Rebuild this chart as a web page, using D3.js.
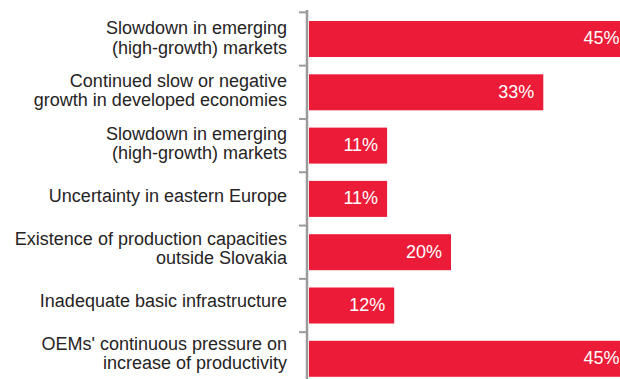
<!DOCTYPE html>
<html>
<head>
<meta charset="utf-8">
<script src="https://cdn.jsdelivr.net/npm/d3@7"></script>
<style>
  html, body { margin: 0; padding: 0; background: #fff; }
  svg { display: block; }
</style>
</head>
<body>
<svg id="chart" width="620" height="379"></svg>
<script>
// Risk factors and the share of respondents citing each one
const categories = [
  ["Slowdown in emerging", "(high-growth) markets"],
  ["Continued slow or negative", "growth in developed economies"],
  ["Slowdown in emerging", "(high-growth) markets"],
  ["Uncertainty in eastern Europe"],
  ["Existence of production capacities", "outside Slovakia"],
  ["Inadequate basic infrastructure"],
  ["OEMs' continuous pressure on", "increase of productivity"]
];
const values = [45, 33, 11, 11, 20, 12, 45];
const valueLabels = ["45%", "33%", "11%", "11%", "20%", "12%", "45%"];

const svg = d3.select("#chart");
const barColor = "#ec1c38";
const axisColor = "#9b9b9b";
const font = "Liberation Sans, Arial, Helvetica, sans-serif";

const axisX = 307;
const n = categories.length;
const x = d3.scaleLinear().domain([0, 45]).range([309, 628.5]);

// bar bands
const barStep = 53.3;
const y = d3.scaleBand()
  .domain(d3.range(n))
  .range([12.35, 12.35 + barStep * n])
  .paddingInner(0.3246)
  .paddingOuter(0.1623);

// label bands (text sits on a slightly tighter rhythm)
const yLab = d3.scaleBand()
  .domain(d3.range(n))
  .range([12.8, 12.8 + 52.6 * n]);

// vertical category axis with ticks at band boundaries
const boundaries = d3.range(n + 1).map(i => y(0) - (y.step() - y.bandwidth()) / 2 + i * y.step());
svg.append("line")
  .attr("x1", axisX).attr("x2", axisX)
  .attr("y1", 10).attr("y2", 379)
  .attr("stroke", axisColor).attr("stroke-width", 2.5);
svg.selectAll("line.tick").data(boundaries).join("line")
  .attr("class", "tick")
  .attr("x1", 299).attr("x2", axisX)
  .attr("y1", d => d).attr("y2", d => d)
  .attr("stroke", axisColor).attr("stroke-width", 2);

// bars
svg.selectAll("rect.bar").data(values).join("rect")
  .attr("class", "bar")
  .attr("x", x(0))
  .attr("y", (d, i) => y(i))
  .attr("width", d => x(d) - x(0))
  .attr("height", y.bandwidth())
  .attr("fill", barColor);

// value labels inside bar ends
svg.selectAll("text.val").data(values).join("text")
  .attr("class", "val")
  .attr("x", d => x(d) - 9)
  .attr("y", (d, i) => y(i) + y.bandwidth() / 2)
  .attr("dy", "0.3em")
  .attr("text-anchor", "end")
  .attr("fill", "#fff")
  .attr("font-family", font)
  .attr("font-size", 18)
  .text((d, i) => valueLabels[i]);

// category labels, right aligned against the axis
const lineH = 19.5;
const lab = svg.selectAll("text.cat").data(categories).join("text")
  .attr("class", "cat")
  .attr("text-anchor", "end")
  .attr("fill", "#262324")
  .attr("font-family", font)
  .attr("font-size", 18);
lab.each(function(lines, i) {
  const cy = yLab(i) + yLab.bandwidth() / 2;
  const top = cy - (lines.length - 1) * lineH / 2;
  d3.select(this).selectAll("tspan").data(lines).join("tspan")
    .attr("x", 287)
    .attr("y", (d, j) => top + j * lineH + 5)
    .text(d => d);
});
</script>
</body>
</html>
